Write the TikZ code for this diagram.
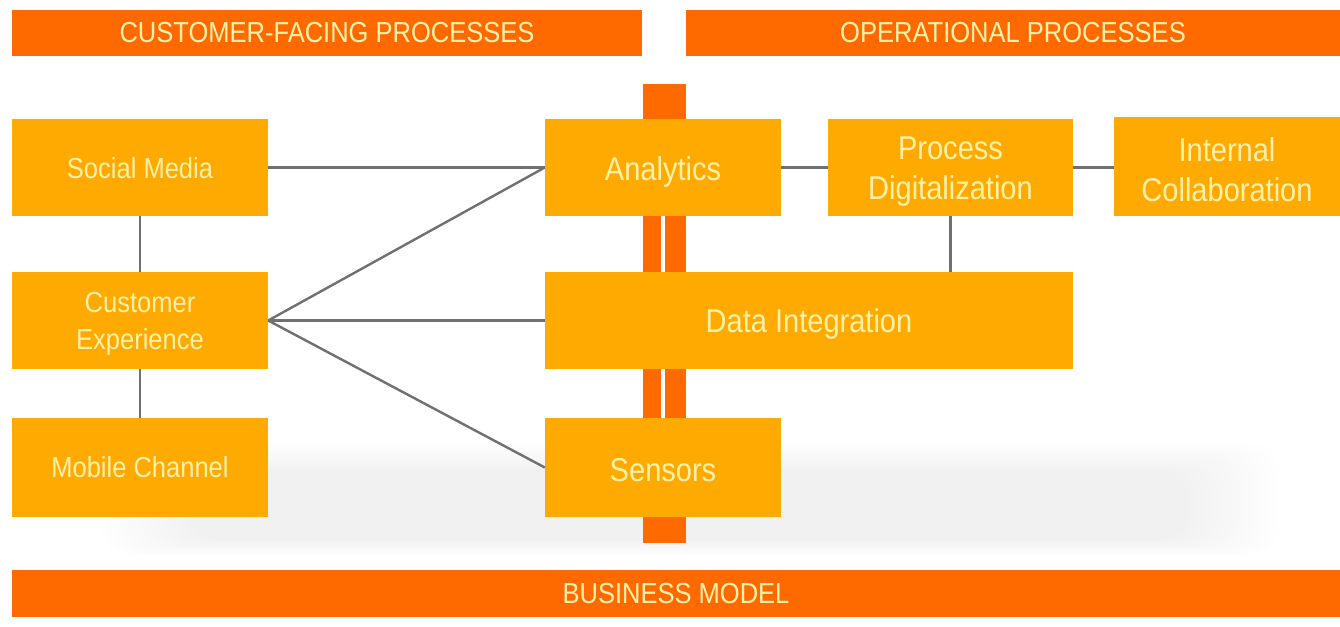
\documentclass[tikz,border=0pt]{standalone}
\usepackage{fontspec}
\newfontfamily\narrowsf[FakeStretch=0.88]{Liberation Sans}
\definecolor{barorange}{HTML}{FF6A00}
\definecolor{boxamber}{HTML}{FFAA00}
\definecolor{labelcream}{HTML}{FFF0A8}
\definecolor{linkgray}{HTML}{707070}
\tikzset{
  banner/.style={fill=barorange, text=labelcream, inner sep=0pt,
    font=\narrowsf\fontsize{29}{34}\selectfont},
  sidebox/.style={fill=boxamber, inner sep=0pt, minimum width=256pt},
  corebox/.style={fill=boxamber, inner sep=0pt, minimum height=97pt},
  sidetext/.style={text=labelcream, inner sep=0pt, align=center,
    font=\narrowsf\fontsize{29}{37}\selectfont},
  coretext/.style={text=labelcream, inner sep=0pt, align=center,
    font=\narrowsf\fontsize{33}{40}\selectfont},
  link/.style={draw=linkgray, line width=2.4pt}
}
\begin{document}
\begin{tikzpicture}[x=1pt, y=-1pt]
\useasboundingbox (0,0) rectangle (1340,626);

% soft floor shadow under the lower row
\foreach \k in {0,...,13}{
  \fill[black, opacity=0.0035, rounded corners=30pt]
    (190-7*\k, 470-2*\k) rectangle (1190+7*\k, 540+1.2*\k);
}

% section banners
\node[banner, minimum width=630pt, minimum height=46pt] (cfp) at (327,33) {CUSTOMER-FACING PROCESSES};
\node[banner, minimum width=654pt, minimum height=46pt] (ops) at (1013,33) {OPERATIONAL PROCESSES};
\node[banner, minimum width=1328pt, minimum height=47pt] (bm) at (676,593.5) {BUSINESS MODEL};

% central spine with its split between the boxes
\fill[barorange] (643,84) rectangle (686,543);
\fill[white] (661,200) rectangle (664.5,430);

% customer-facing side
\node[sidebox, minimum height=97pt] (sm) at (140,167.5) {};
\node[sidebox, minimum height=97pt] (cx) at (140,320.5) {};
\node[sidebox, minimum height=99pt] (mc) at (140,467.5) {};
\node[sidetext] (sm-t) at ([yshift=-1pt]sm.center) {Social Media};
\node[sidetext] (cx-t) at ([yshift=-3pt]cx.center) {Customer\\Experience};
\node[sidetext] (mc-t) at (mc.center) {Mobile Channel};

% operational side
\node[corebox, minimum width=236pt] (an) at (663,167.5) {};
\node[corebox, minimum width=245pt] (pd) at (950.5,167.5) {};
\node[corebox, minimum width=226pt, minimum height=99pt] (ic) at (1227,166.5) {};
\node[corebox, minimum width=528pt] (di) at (809,320.5) {};
\node[corebox, minimum width=236pt, minimum height=99pt] (se) at (663,467.5) {};
\node[coretext] (an-t) at ([yshift=-4pt]an.center) {Analytics};
\node[coretext] (pd-t) at ([yshift=-4pt]pd.center) {Process\\Digitalization};
\node[coretext] (ic-t) at ([yshift=-3pt]ic.center) {Internal\\Collaboration};
\node[coretext] (di-t) at ([yshift=-3pt]di.center) {Data Integration};
\node[coretext] (se-t) at ([yshift=-3pt]se.center) {Sensors};

% connectors
\draw[link] (sm.east) -- (an.west);
\draw[link] (sm.south) -- (cx.north);
\draw[link] (cx.south) -- (mc.north);
\draw[link] (cx.east) -- (an.west);
\draw[link] (cx.east) -- (di.west);
\draw[link] (cx.east) -- (se.west);
\draw[link] (an.east) -- (pd.west);
\draw[link] (pd.east) -- (pd.east -| ic.west);
\draw[link] (pd.south) -- (pd.south |- di.north);
\end{tikzpicture}
\end{document}
